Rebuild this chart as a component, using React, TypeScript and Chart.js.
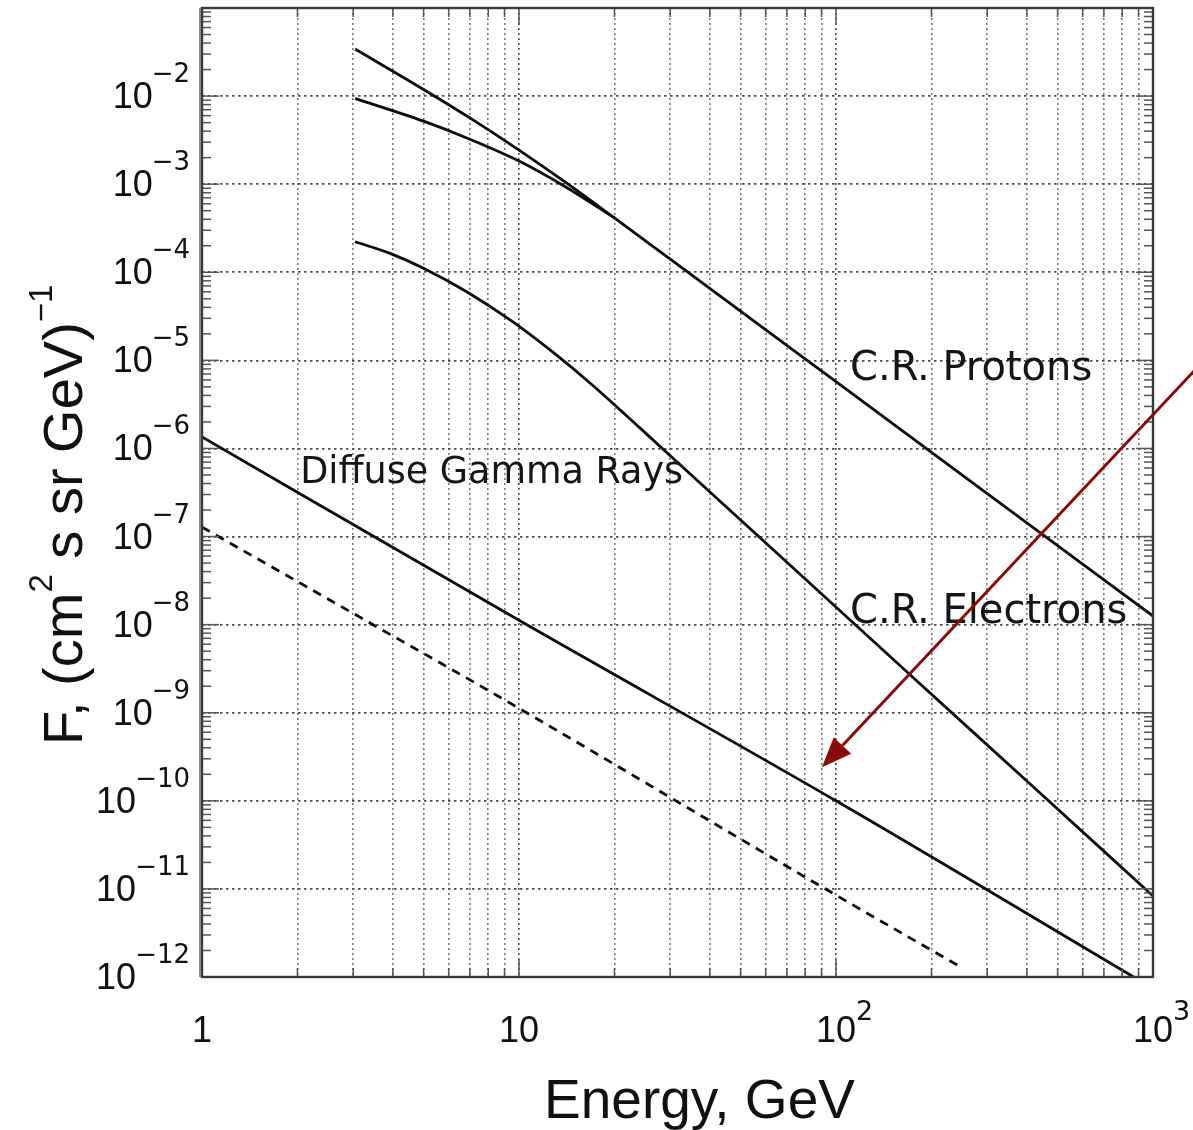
import React, { useEffect, useRef } from "react";
import { Chart, registerables } from "chart.js";

Chart.register(...registerables);

// ---------------- data ----------------
// energy axis (GeV): decade tick labels
const xDecadeTicks = [1, 10, 100, 1000];
const xTickBase = ["1", "10", "10", "10"];
const xTickExp = ["", "", "2", "3"];

// flux axis: decade tick labels
const yDecadeTicks = [1e-2, 1e-3, 1e-4, 1e-5, 1e-6, 1e-7, 1e-8, 1e-9, 1e-10, 1e-11, 1e-12];
const yTickExp = ["−2", "−3", "−4", "−5", "−6", "−7", "−8", "−9", "−10", "−11", "−12"];

// grid positions
const xGridValues = [
  1, 2, 3, 4, 5, 6, 7, 8, 9,
  10, 20, 30, 40, 50, 60, 70, 80, 90,
  100, 200, 300, 400, 500, 600, 700, 800, 900,
  1000,
];
const yGridValues = [1e-12, 1e-11, 1e-10, 1e-9, 1e-8, 1e-7, 1e-6, 1e-5, 1e-4, 1e-3, 1e-2, 1e-1];
const yMinorMantissas = [2, 3, 4, 5, 6, 7, 8, 9];
const yMinorDecades = [1e-12, 1e-11, 1e-10, 1e-9, 1e-8, 1e-7, 1e-6, 1e-5, 1e-4, 1e-3, 1e-2];

// C.R. protons (unmodulated, upper branch)
const protonUpperE = [3.04, 5, 7, 10, 14, 20, 30, 100, 300, 1000];
const protonUpperF = [3.42e-2, 1.19e-2, 5.65e-3, 2.44e-3, 1.054e-3, 4.14e-4, 1.41e-4, 5.73e-6, 3.08e-7, 1.25e-8];

// C.R. protons (solar-modulated, lower branch)
const protonLowerE = [3.04, 5, 7, 10, 14, 20];
const protonLowerF = [9.42e-3, 5.19e-3, 3.24e-3, 1.83e-3, 9.35e-4, 4.14e-4];

// C.R. electrons
const electronE = [3.04, 3.92, 4.98, 6.86, 9.57, 13.2, 17.1, 24.1, 40.1, 81.1, 180, 400, 1000];
const electronF = [2.22e-4, 1.64e-4, 1.12e-4, 5.98e-5, 2.73e-5, 1.13e-5, 5.19e-6, 1.7e-6, 3.18e-7, 3.15e-8, 2.29e-9, 1.68e-10, 8.3e-12];

// diffuse gamma rays (solid)
const gammaE = [1, 10, 100, 869];
const gammaF = [1.35e-6, 1.12e-8, 1.0e-10, 1.0e-12];

// dashed line
const dashedE = [1, 2.99, 8.71, 100, 251];
const dashedF = [1.28e-7, 1.35e-8, 1.5e-9, 8.5e-12, 1.26e-12];

// curve annotations (anchor in data coordinates: left / baseline)
const labelTexts = ["C.R. Protons", "C.R. Electrons", "Diffuse Gamma Rays"];
const labelE = [110.7, 110.7, 2.04];
const labelF = [5.97e-6, 1.05e-8, 4.05e-7];

// red arrow (tail -> head) in data coordinates
const arrowE = [1407, 90.3];
const arrowF = [8.95e-6, 2.4e-10];

// axis titles
const xTitle = "Energy, GeV";
const yTitleParts = ["F, (cm", "2", " s sr GeV)", "−1"];

// ---------------- helpers ----------------
const toPoints = (xs: number[], ys: number[]) => xs.map((x, i) => ({ x, y: ys[i] }));
const isDecade = (v: number) => Math.abs(Math.log10(v) - Math.round(Math.log10(v))) < 1e-9;

const BASE_FONT = "'Liberation Sans', Arial, Helvetica, sans-serif";
const SUP_FONT = "'DejaVu Sans', 'Liberation Sans', sans-serif";
const LABEL_FONT = "'DejaVu Sans', sans-serif";

const overlayPlugin = {
  id: "overlay",
  afterDraw(chart: any) {
    const { ctx, chartArea: a, scales } = chart;
    const xs = scales.x;
    const ys = scales.y;
    ctx.save();

    const seg = (x1: number, y1: number, x2: number, y2: number) => {
      ctx.beginPath();
      ctx.moveTo(x1, y1);
      ctx.lineTo(x2, y2);
      ctx.stroke();
    };

    // inward tick marks
    ctx.setLineDash([]);
    ctx.strokeStyle = "#555";
    ctx.lineWidth = 1.5;
    yMinorDecades.forEach((d) => {
      yMinorMantissas.forEach((m) => {
        const v = m * d;
        const py = ys.getPixelForValue(v);
        if (py < a.top || py > a.bottom) return;
        seg(a.left, py, a.left + 9, py);
        seg(a.right, py, a.right - 9, py);
      });
    });
    yGridValues.forEach((v) => {
      const py = ys.getPixelForValue(v);
      seg(a.left, py, a.left + 17, py);
      seg(a.right, py, a.right - 17, py);
    });
    xGridValues.forEach((v) => {
      const px = xs.getPixelForValue(v);
      const len = isDecade(v) ? 17 : 9;
      seg(px, a.bottom, px, a.bottom - len);
      seg(px, a.top, px, a.top + len);
    });

    // frame
    ctx.strokeStyle = "#3a3a3a";
    ctx.lineWidth = 2.4;
    ctx.strokeRect(a.left, a.top, a.right - a.left, a.bottom - a.top);
    ctx.strokeStyle = "#8a8a8a";
    ctx.lineWidth = 2;
    seg(a.left - 2, a.top, a.left - 2, a.bottom);

    ctx.fillStyle = "#111";
    ctx.textBaseline = "alphabetic";

    // y tick labels
    yDecadeTicks.forEach((v, i) => {
      const py = ys.getPixelForValue(v);
      ctx.font = `26px ${SUP_FONT}`;
      const expW = ctx.measureText(yTickExp[i]).width;
      const right = a.left - 12;
      ctx.textAlign = "left";
      ctx.fillText(yTickExp[i], right - expW, py - 14);
      ctx.font = `36px ${BASE_FONT}`;
      ctx.textAlign = "right";
      ctx.fillText("10", right - expW + 1, py + 12);
    });

    // x tick labels
    xDecadeTicks.forEach((v, i) => {
      const px = xs.getPixelForValue(v);
      ctx.font = `36px ${BASE_FONT}`;
      ctx.textAlign = "center";
      ctx.fillText(xTickBase[i], px, a.bottom + 65);
      if (xTickExp[i]) {
        const bw = ctx.measureText(xTickBase[i]).width;
        ctx.font = `27px ${SUP_FONT}`;
        ctx.textAlign = "left";
        ctx.fillText(xTickExp[i], px + bw / 2, a.bottom + 43);
      }
    });

    // curve labels
    const labelSizes = [40, 40, 36.5];
    labelTexts.forEach((t, i) => {
      ctx.font = `${labelSizes[i]}px ${LABEL_FONT}`;
      ctx.textAlign = "left";
      ctx.fillStyle = "#151515";
      ctx.fillText(t, xs.getPixelForValue(labelE[i]), ys.getPixelForValue(labelF[i]));
    });

    // x title
    ctx.fillStyle = "#111";
    ctx.font = `55px ${BASE_FONT}`;
    ctx.textAlign = "center";
    ctx.fillText(xTitle, (a.left + a.right) / 2 + 22, a.bottom + 141);

    // y title (rotated)
    ctx.save();
    ctx.translate(82, 745);
    ctx.rotate(-Math.PI / 2);
    ctx.textAlign = "left";
    let cx = 0;
    yTitleParts.forEach((t, i) => {
      const sup = i % 2 === 1;
      ctx.font = sup ? `33px ${BASE_FONT}` : `56px ${BASE_FONT}`;
      ctx.fillText(t, cx, sup ? -30 : 0);
      cx += ctx.measureText(t).width;
    });
    ctx.restore();

    // red arrow
    const x1 = xs.getPixelForValue(arrowE[0]);
    const y1 = ys.getPixelForValue(arrowF[0]);
    const x2 = xs.getPixelForValue(arrowE[1]);
    const y2 = ys.getPixelForValue(arrowF[1]);
    const ang = Math.atan2(y2 - y1, x2 - x1);
    const headLen = 30;
    const headHalf = 12;
    const bx = x2 - headLen * Math.cos(ang);
    const by = y2 - headLen * Math.sin(ang);
    ctx.strokeStyle = "#8a0a0a";
    ctx.fillStyle = "#8a0a0a";
    ctx.lineWidth = 3;
    ctx.setLineDash([]);
    seg(x1, y1, bx, by);
    ctx.beginPath();
    ctx.moveTo(x2, y2);
    ctx.lineTo(bx + headHalf * Math.sin(ang), by - headHalf * Math.cos(ang));
    ctx.lineTo(bx - headHalf * Math.sin(ang), by + headHalf * Math.cos(ang));
    ctx.closePath();
    ctx.fill();

    ctx.restore();
  },
};

export default function App() {
  const canvasRef = useRef<HTMLCanvasElement | null>(null);

  useEffect(() => {
    const canvas = canvasRef.current;
    if (!canvas) return;

    const lineStyle = (dash: number[] = []) => ({
      borderColor: "#0d0d0d",
      borderWidth: 2.8,
      borderDash: dash,
      pointRadius: 0,
      fill: false,
      cubicInterpolationMode: "monotone" as const,
    });

    const chart = new Chart(canvas, {
      type: "line",
      data: {
        datasets: [
          { label: "C.R. Protons", data: toPoints(protonUpperE, protonUpperF), ...lineStyle() },
          { label: "C.R. Protons (modulated)", data: toPoints(protonLowerE, protonLowerF), ...lineStyle() },
          { label: "C.R. Electrons", data: toPoints(electronE, electronF), ...lineStyle() },
          { label: "Diffuse Gamma Rays", data: toPoints(gammaE, gammaF), ...lineStyle() },
          { label: "Dashed", data: toPoints(dashedE, dashedF), ...lineStyle([9, 7]) },
        ],
      },
      options: {
        animation: false,
        responsive: false,
        devicePixelRatio: 1,
        events: [],
        layout: { padding: { left: 202, right: 40, top: 8, bottom: 153 } },
        plugins: { legend: { display: false }, tooltip: { enabled: false }, title: { display: false } },
        scales: {
          x: {
            type: "logarithmic",
            min: 1,
            max: 1000,
            afterBuildTicks: (scale: any) => {
              scale.ticks = xGridValues.map((v) => ({ value: v }));
            },
            ticks: { display: false },
            grid: {
              drawTicks: false,
              color: (c: any) => (c.tick && isDecade(c.tick.value) ? "#4a4a4a" : "#7a7a7a"),
              lineWidth: 1.6,
            },
            border: { display: false, dash: [2, 3] },
          },
          y: {
            type: "logarithmic",
            min: 1e-12,
            max: 1e-1,
            afterBuildTicks: (scale: any) => {
              scale.ticks = yGridValues.map((v) => ({ value: v }));
            },
            ticks: { display: false },
            grid: { drawTicks: false, color: "#4f4f4f", lineWidth: 1.7 },
            border: { display: false, dash: [2.5, 3.5] },
          },
        },
      },
      plugins: [overlayPlugin],
    });

    return () => chart.destroy();
  }, []);

  return (
    <div style={{ position: "fixed", left: 0, top: 0, width: 1193, height: 1130, background: "#fff" }}>
      <canvas ref={canvasRef} width={1193} height={1130} style={{ width: 1193, height: 1130, display: "block" }} />
    </div>
  );
}
